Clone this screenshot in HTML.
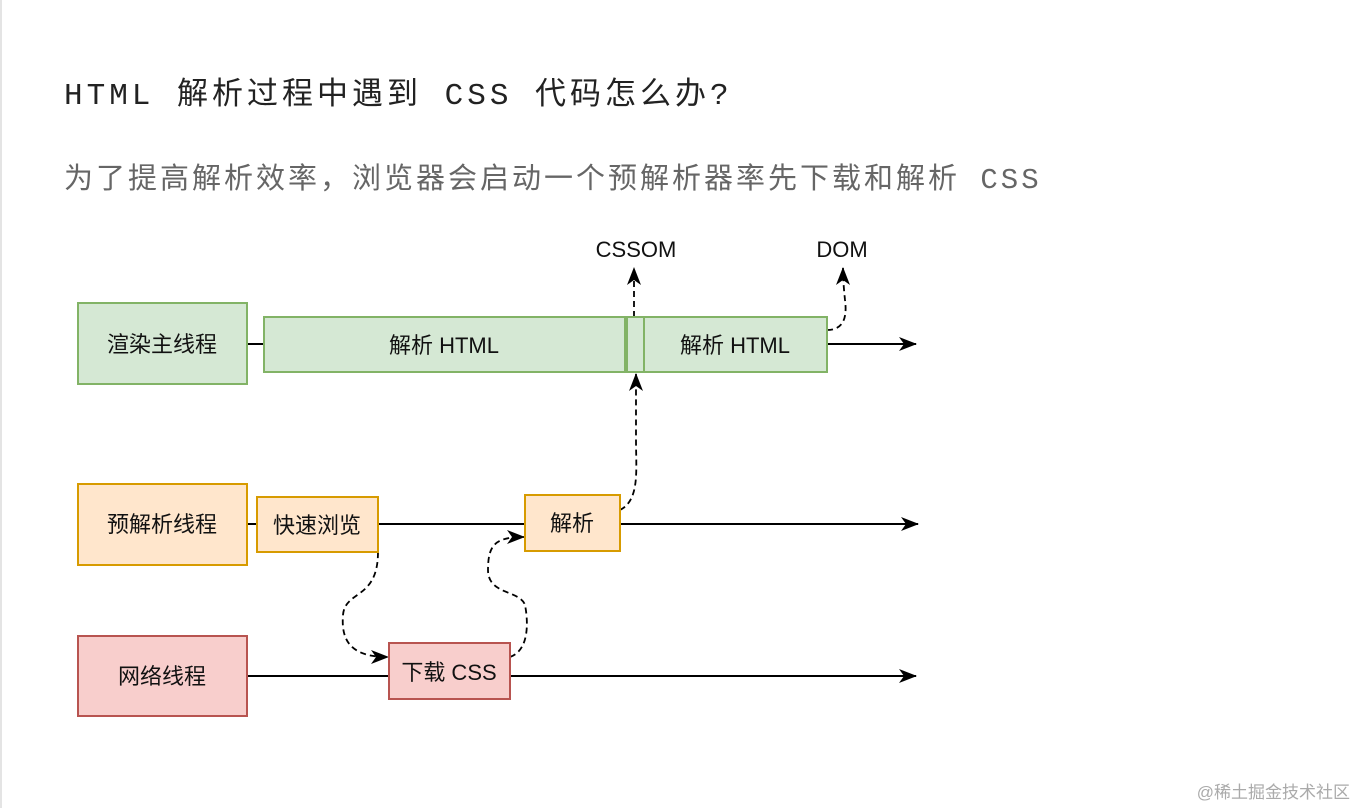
<!DOCTYPE html>
<html><head><meta charset="utf-8"><style>
body{margin:0;width:1364px;height:808px;background:#fff;position:relative;overflow:hidden;font-family:"Liberation Sans","Noto Sans CJK SC",sans-serif}
.t{position:absolute;white-space:nowrap}
</style></head><body>
<div style="position:absolute;left:0;top:0;width:2px;height:808px;background:#e4e4e4"></div>
<div class="t" style="left:64px;top:68px;font-size:31px;letter-spacing:4px;color:#222;font-family:'Liberation Mono','Noto Sans CJK SC',monospace">HTML 解析过程中遇到 CSS 代码怎么办?</div>
<div class="t" style="left:64px;top:155px;font-size:29px;letter-spacing:3px;color:#666;font-family:'Liberation Mono','Noto Sans CJK SC',monospace">为了提高解析效率，浏览器会启动一个预解析器率先下载和解析 CSS</div>
<svg width="1364" height="808" style="position:absolute;left:0;top:0" font-family="Liberation Sans, Noto Sans CJK SC, sans-serif">
<defs>
<marker id="b" markerWidth="18" markerHeight="14" refX="17" refY="7" orient="auto" markerUnits="userSpaceOnUse"><path d="M0,0 L18,7 L0,14 L5,7z" fill="#000"/></marker></defs>
<g stroke="#000" stroke-width="2" fill="none">
<line x1="247" y1="344" x2="264" y2="344"/><line x1="827" y1="344" x2="916" y2="344" marker-end="url(#b)"/>
<line x1="247" y1="524" x2="257" y2="524"/><line x1="378" y1="524" x2="525" y2="524"/><line x1="620" y1="524" x2="918" y2="524" marker-end="url(#b)"/>
<line x1="247" y1="676" x2="389" y2="676"/><line x1="510" y1="676" x2="916" y2="676" marker-end="url(#b)"/>
</g>
<g stroke="#000" stroke-width="1.8" fill="none" stroke-dasharray="6,4">
<path d="M378,552 C378,600 345,590 343,615 C341,640 350,657 388,657" marker-end="url(#b)"/>
<path d="M510,657 C530,650 528,620 525,605 C520,590 488,595 488,570 C488,545 495,537 524,537" marker-end="url(#b)"/>
<path d="M620,510 C640,500 636,470 636,440 C636,410 636,390 636,374" marker-end="url(#b)"/>
<path d="M634,317 L634,268" marker-end="url(#b)"/>
<path d="M827,330 C845,330 847,315 845,300 C844,290 843,280 843,268" marker-end="url(#b)"/>
</g>
<g stroke-width="2">
<rect x="78" y="303" width="169" height="81" fill="#d5e8d4" stroke="#82b366"/>
<rect x="264" y="317" width="361" height="55" fill="#d5e8d4" stroke="#82b366"/>
<rect x="625" y="317" width="19" height="55" fill="#d5e8d4" stroke="#82b366"/>
<line x1="626" y1="317" x2="626" y2="372" stroke="#82b366" stroke-width="4"/>
<rect x="644" y="317" width="183" height="55" fill="#d5e8d4" stroke="#82b366"/>
<rect x="78" y="484" width="169" height="81" fill="#ffe6cc" stroke="#d79b00"/>
<rect x="257" y="497" width="121" height="55" fill="#ffe6cc" stroke="#d79b00"/>
<rect x="525" y="495" width="95" height="56" fill="#ffe6cc" stroke="#d79b00"/>
<rect x="78" y="636" width="169" height="80" fill="#f8cecc" stroke="#b85450"/>
<rect x="389" y="643" width="121" height="56" fill="#f8cecc" stroke="#b85450"/>
</g>
<g font-size="22" text-anchor="middle" fill="#111">
<text x="162" y="352">渲染主线程</text>
<text x="444" y="353">解析 HTML</text>
<text x="735" y="353">解析 HTML</text>
<text x="162" y="532">预解析线程</text>
<text x="317" y="533">快速浏览</text>
<text x="572" y="531">解析</text>
<text x="162" y="684">网络线程</text>
<text x="449" y="680">下载 CSS</text>
<text x="636" y="257">CSSOM</text>
<text x="842" y="257">DOM</text>
</g>
<text x="1350" y="798" font-size="17" fill="#aaa" text-anchor="end">@稀土掘金技术社区</text>
</svg>
</body></html>
